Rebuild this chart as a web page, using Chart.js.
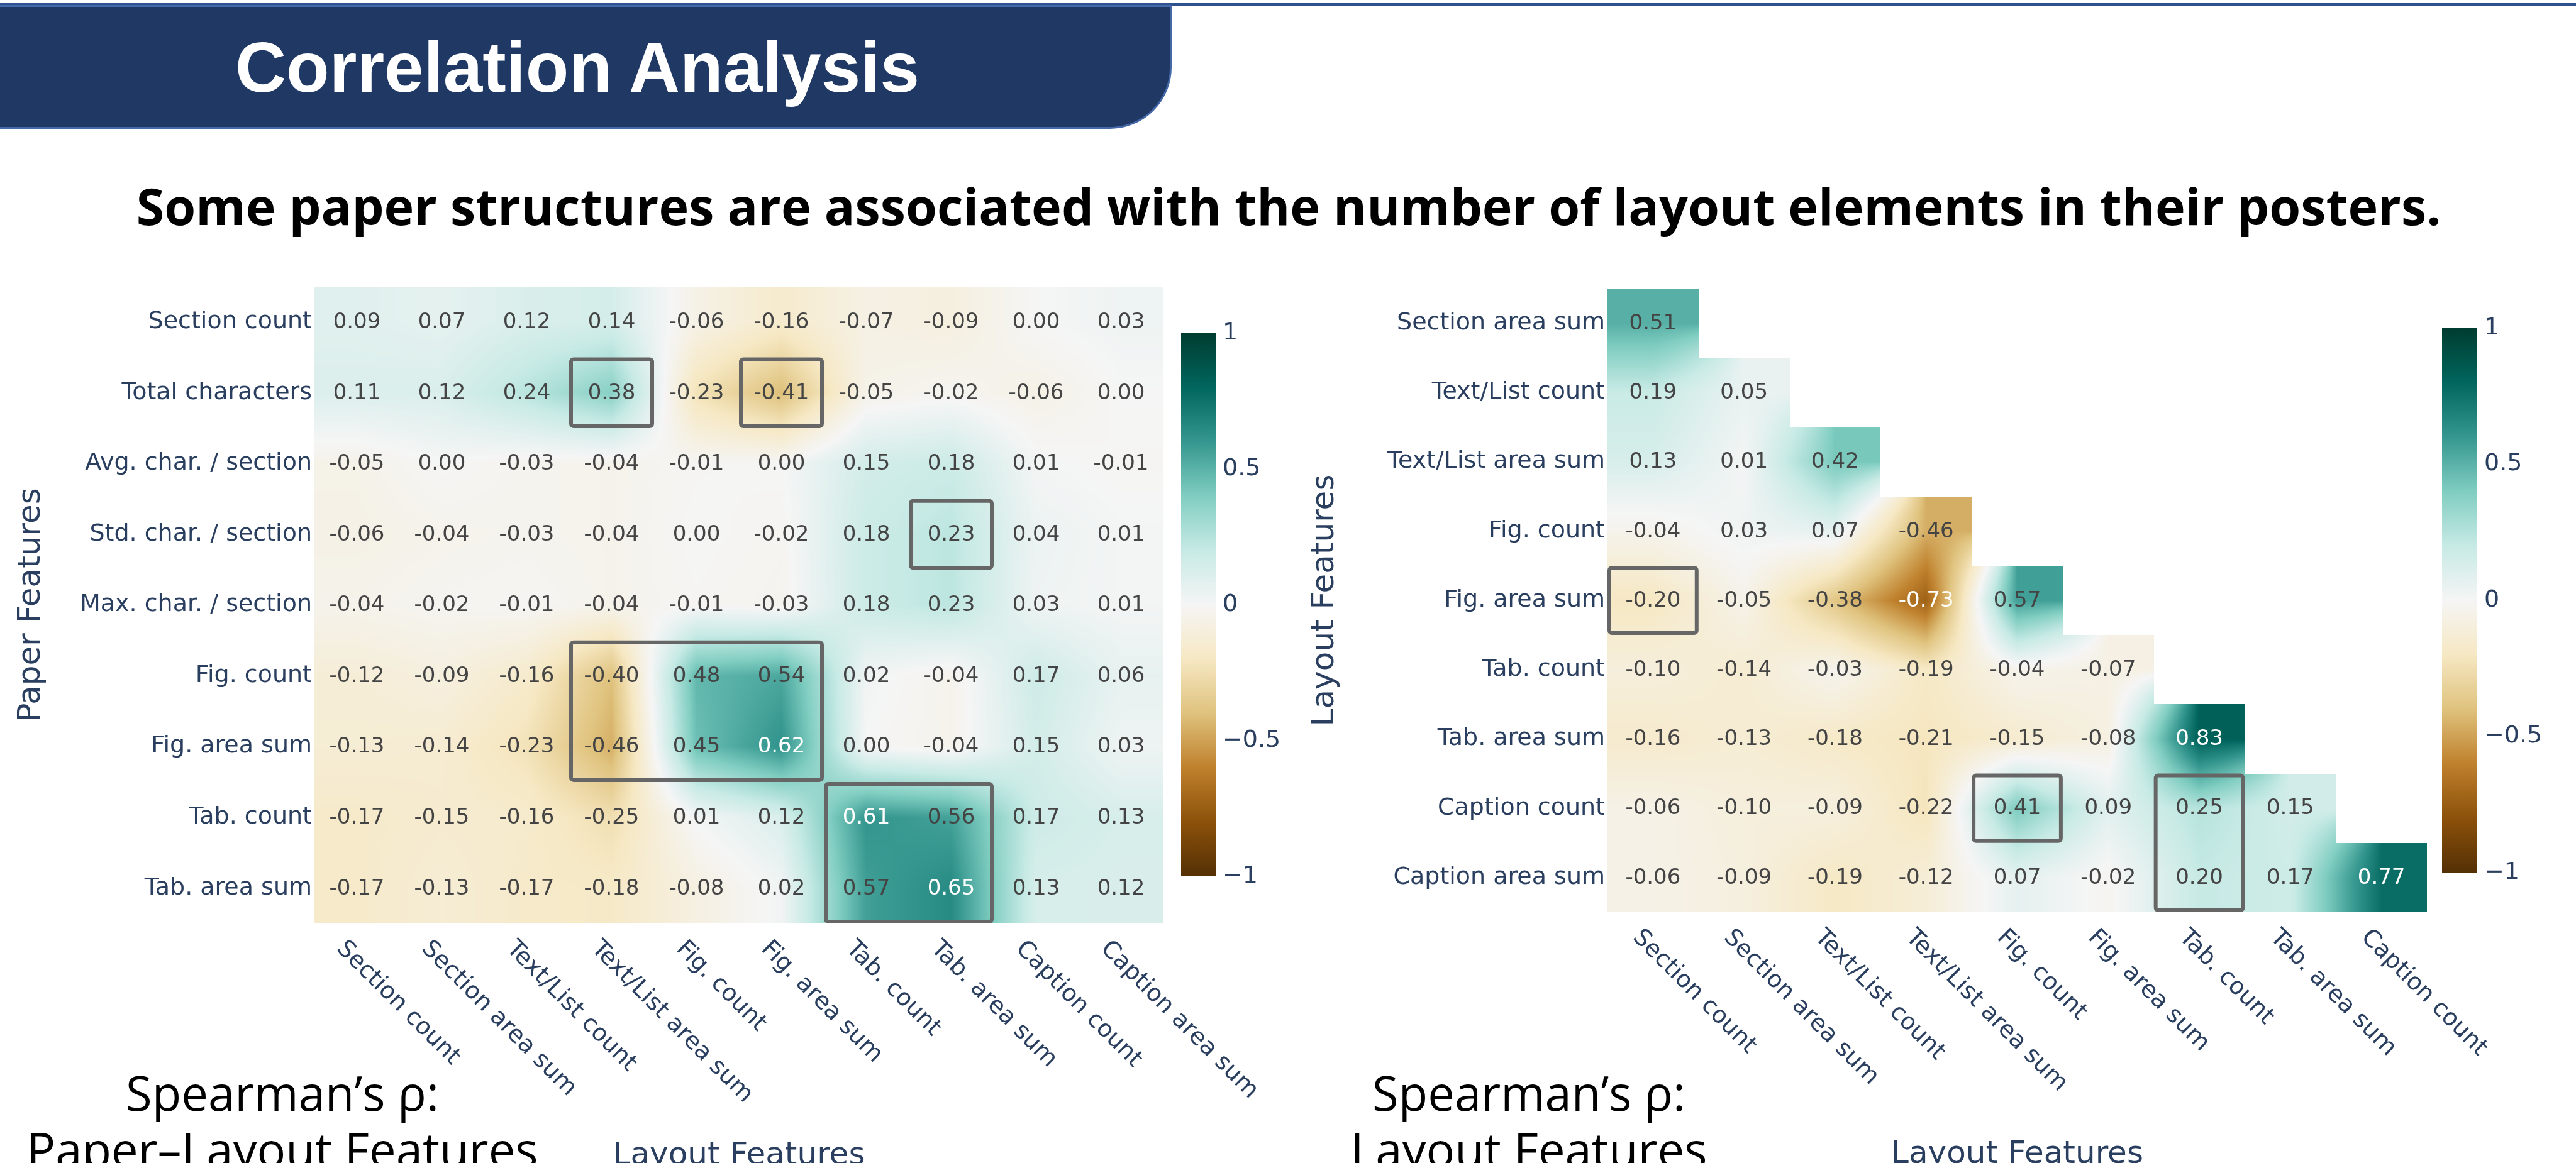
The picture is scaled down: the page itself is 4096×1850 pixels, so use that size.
<!DOCTYPE html>
<html><head><meta charset="utf-8">
<script src="https://cdn.jsdelivr.net/npm/chart.js@4.4.1/dist/chart.umd.min.js"></script>
<style>
html,body{margin:0;padding:0;width:4096px;height:1850px;overflow:hidden;background:#fff;}
#topline{position:absolute;left:0;top:4px;width:4096px;height:5px;background:#2f528f;}
#banner{position:absolute;left:-4px;top:8px;width:1867px;height:197px;background:#203864;border:3px solid #4468a8;border-radius:0 0 98px 0;box-sizing:border-box;}
.txt{position:absolute;white-space:nowrap;line-height:1;z-index:3;}
canvas{position:absolute;z-index:1;}
</style></head><body>
<div id="topline"></div><div id="banner"></div>
<canvas id="c1" width="2040" height="1520" style="left:0px;top:380px;width:2040px;height:1520px"></canvas>
<canvas id="c2" width="2036" height="1520" style="left:2060px;top:380px;width:2036px;height:1520px"></canvas>
<div id="title" class="txt" style="font-family:'Liberation Sans',Arial,sans-serif;font-weight:bold;color:#fff;font-size:113px;">Correlation Analysis</div>
<div id="subtitle" class="txt" style="font-family:'Open Sans',sans-serif;font-weight:bold;color:#000;font-size:85px;">Some paper structures are associated with the number of layout elements in their posters.</div>
<div id="sl1" class="txt" style="font-family:'Open Sans',sans-serif;color:#000;font-size:76px;">Spearman’s ρ:</div>
<div id="sl2" class="txt" style="font-family:'Open Sans',sans-serif;color:#000;font-size:76px;">Paper–Layout Features</div>
<div id="sr1" class="txt" style="font-family:'Open Sans',sans-serif;color:#000;font-size:76px;">Spearman’s ρ:</div>
<div id="sr2" class="txt" style="font-family:'Open Sans',sans-serif;color:#000;font-size:76px;">Layout Features</div>
<script>
// ---------- DATA ----------
const layoutLabels = ['Section count','Section area sum','Text/List count','Text/List area sum','Fig. count','Fig. area sum','Tab. count','Tab. area sum','Caption count','Caption area sum'];
const paperLabels = ['Section count','Total characters','Avg. char. / section','Std. char. / section','Max. char. / section','Fig. count','Fig. area sum','Tab. count','Tab. area sum'];
const paperLayoutRho = [
  [0.09, 0.07, 0.12, 0.14, -0.06, -0.16, -0.07, -0.09, 0.00, 0.03],
  [0.11, 0.12, 0.24, 0.38, -0.23, -0.41, -0.05, -0.02, -0.06, 0.00],
  [-0.05, 0.00, -0.03, -0.04, -0.01, 0.00, 0.15, 0.18, 0.01, -0.01],
  [-0.06, -0.04, -0.03, -0.04, 0.00, -0.02, 0.18, 0.23, 0.04, 0.01],
  [-0.04, -0.02, -0.01, -0.04, -0.01, -0.03, 0.18, 0.23, 0.03, 0.01],
  [-0.12, -0.09, -0.16, -0.40, 0.48, 0.54, 0.02, -0.04, 0.17, 0.06],
  [-0.13, -0.14, -0.23, -0.46, 0.45, 0.62, 0.00, -0.04, 0.15, 0.03],
  [-0.17, -0.15, -0.16, -0.25, 0.01, 0.12, 0.61, 0.56, 0.17, 0.13],
  [-0.17, -0.13, -0.17, -0.18, -0.08, 0.02, 0.57, 0.65, 0.13, 0.12]
];
const layoutColLabels = ['Section count','Section area sum','Text/List count','Text/List area sum','Fig. count','Fig. area sum','Tab. count','Tab. area sum','Caption count'];
const layoutRowLabels = ['Section area sum','Text/List count','Text/List area sum','Fig. count','Fig. area sum','Tab. count','Tab. area sum','Caption count','Caption area sum'];
const layoutRho = [
  [0.51],
  [0.19, 0.05],
  [0.13, 0.01, 0.42],
  [-0.04, 0.03, 0.07, -0.46],
  [-0.20, -0.05, -0.38, -0.73, 0.57],
  [-0.10, -0.14, -0.03, -0.19, -0.04, -0.07],
  [-0.16, -0.13, -0.18, -0.21, -0.15, -0.08, 0.83],
  [-0.06, -0.10, -0.09, -0.22, 0.41, 0.09, 0.25, 0.15],
  [-0.06, -0.09, -0.19, -0.12, 0.07, -0.02, 0.20, 0.17, 0.77]
];
// highlighted blocks: [row0, col0, row1, col1]
const paperLayoutBoxes = [[1,3,1,3],[1,5,1,5],[3,7,3,7],[5,3,6,5],[7,6,8,7]];
const layoutBoxes = [[4,0,4,0],[7,4,7,4],[7,6,8,6]];
const colorbarTicks = [1, 0.5, 0, -0.5, -1];
const brbg = [[84,48,5],[140,81,10],[191,129,45],[223,194,125],[246,232,195],[245,245,245],[199,234,229],[128,205,193],[53,151,143],[1,102,94],[0,60,48]];

// ---------- HELPERS ----------
function cmap(v){
  let t=(v+1)/2; t=Math.max(0,Math.min(1,t));
  const s=t*10; const i=Math.min(9,Math.floor(s)); const f=s-i;
  const a=brbg[i], b=brbg[i+1];
  return [a[0]+(b[0]-a[0])*f, a[1]+(b[1]-a[1])*f, a[2]+(b[2]-a[2])*f];
}
function toPoints(rows, cols, z){
  const pts=[];
  z.forEach((row,i)=>row.forEach((v,j)=>{ if(v!==null && v!==undefined) pts.push({x:cols[j], y:rows[i], v}); }));
  return pts;
}
const TICK_FONT = {family:'DejaVu Sans', size:38};
const AX_COLOR = '#2a3f5f';

const heatPlugin = {
  id:'heat',
  beforeDatasetsDraw(chart){
    const ctx=chart.ctx, xs=chart.scales.x, ys=chart.scales.y;
    const xl=xs.getLabels(), yl=ys.getLabels();
    const nC=xl.length, nR=yl.length;
    const grid=Array.from({length:nR},()=>new Array(nC).fill(NaN));
    chart.data.datasets[0].data.forEach(d=>{ grid[yl.indexOf(d.y)][xl.indexOf(d.x)]=d.v; });
    const cw=xs.getPixelForValue(1)-xs.getPixelForValue(0);
    const rh=ys.getPixelForValue(1)-ys.getPixelForValue(0);
    const left=xs.getPixelForValue(0)-cw/2, top=ys.getPixelForValue(0)-rh/2;
    const W=Math.round(cw*nC), H=Math.round(rh*nR);
    const off=document.createElement('canvas'); off.width=W; off.height=H;
    const octx=off.getContext('2d'); const img=octx.createImageData(W,H); const D=img.data;
    const colInfo=[];
    for(let px=0;px<W;px++){
      const own=Math.min(nC-1,Math.floor((px+0.5)/cw));
      let u=(px+0.5)/cw-0.5; let j0=Math.floor(u), t=u-j0;
      if(j0<0){j0=0;t=0;} if(j0>=nC-1){j0=nC-1;t=0;}
      colInfo.push([own,j0,Math.min(nC-1,j0+1),t]);
    }
    for(let py=0;py<H;py++){
      const ownR=Math.min(nR-1,Math.floor((py+0.5)/rh));
      let u=(py+0.5)/rh-0.5; let i0=Math.floor(u), s=u-i0;
      if(i0<0){i0=0;s=0;} if(i0>=nR-1){i0=nR-1;s=0;}
      const i1=Math.min(nR-1,i0+1);
      for(let px=0;px<W;px++){
        const [own,j0,j1,t]=colInfo[px];
        if(isNaN(grid[ownR][own])) continue;
        const vals=[grid[i0][j0],grid[i0][j1],grid[i1][j0],grid[i1][j1]];
        const ws=[(1-s)*(1-t),(1-s)*t,s*(1-t),s*t];
        let sum=0, wsum=0;
        for(let k=0;k<4;k++){ if(!isNaN(vals[k])){ sum+=vals[k]*ws[k]; wsum+=ws[k]; } }
        const v = wsum>0 ? sum/wsum : grid[ownR][own];
        const c=cmap(v); const o=(py*W+px)*4;
        D[o]=c[0]; D[o+1]=c[1]; D[o+2]=c[2]; D[o+3]=255;
      }
    }
    octx.putImageData(img,0,0);
    ctx.drawImage(off,left,top);
  },
  afterDatasetsDraw(chart, args, opts){
    const ctx=chart.ctx, xs=chart.scales.x, ys=chart.scales.y, ca=chart.chartArea;
    const meta=chart.getDatasetMeta(0), data=chart.data.datasets[0].data;
    const cw=xs.getPixelForValue(1)-xs.getPixelForValue(0);
    const rh=ys.getPixelForValue(1)-ys.getPixelForValue(0);
    // cell values
    ctx.save();
    ctx.font='34px "DejaVu Sans"'; ctx.textAlign='center'; ctx.textBaseline='middle';
    meta.data.forEach((pt,k)=>{
      const v=data[k].v; const c=cmap(v);
      const br=(c[0]*299+c[1]*587+c[2]*114)/1000;
      ctx.fillStyle = br<128 ? '#ffffff' : '#444444';
      ctx.fillText(v.toFixed(2), pt.x, pt.y+1);
    });
    ctx.restore();
    // highlight boxes
    ctx.save();
    ctx.strokeStyle='#666666'; ctx.lineWidth=6;
    (opts.boxes||[]).forEach(b=>{
      const ins=3;
      const x=xs.getPixelForValue(b[1])-cw/2+ins, y=ys.getPixelForValue(b[0])-rh/2+ins;
      const w=(b[3]-b[1]+1)*cw-2*ins, h=(b[2]-b[0]+1)*rh-2*ins;
      ctx.beginPath(); ctx.roundRect(x,y,w,h,4); ctx.stroke();
    });
    ctx.restore();
    // x tick labels, rotated 45deg clockwise
    ctx.save();
    ctx.font='38px "DejaVu Sans"'; ctx.fillStyle=AX_COLOR; ctx.textAlign='left'; ctx.textBaseline='alphabetic';
    xs.getLabels().forEach((lab,i)=>{
      const px=xs.getPixelForValue(i);
      ctx.save(); ctx.translate(px-33.6, ca.bottom+41.6); ctx.rotate(Math.PI/4); ctx.fillText(lab,0,0); ctx.restore();
    });
    // x axis title
    ctx.font='50px "DejaVu Sans"'; ctx.textAlign='center';
    ctx.fillText(opts.xTitle, (ca.left+ca.right)/2, opts.xTitleBaseline);
    ctx.restore();
    // colorbar
    const cb=opts.cb;
    const x0=ca.right+cb.dx0, x1=ca.right+cb.dx1;
    const g=ctx.createLinearGradient(0,cb.bottom,0,cb.top);
    brbg.forEach((c,i)=>g.addColorStop(i/10,`rgb(${c[0]},${c[1]},${c[2]})`));
    ctx.save();
    ctx.fillStyle=g; ctx.fillRect(x0,cb.top,x1-x0,cb.bottom-cb.top);
    ctx.font='38px "DejaVu Sans"'; ctx.fillStyle=AX_COLOR; ctx.textAlign='left'; ctx.textBaseline='middle';
    colorbarTicks.forEach(t=>{
      const y=cb.bottom-(t+1)/2*(cb.bottom-cb.top);
      const s=(t<0?'\u2212':'')+String(Math.abs(t));
      ctx.fillText(s, ca.right+cb.labelDx, y);
    });
    ctx.restore();
  }
};

function makeChart(id, cols, rows, z, cfg){
  return new Chart(document.getElementById(id), {
    type:'scatter',
    data:{datasets:[{data:toPoints(rows,cols,z), pointRadius:0, pointHoverRadius:0, backgroundColor:'rgba(0,0,0,0)'}]},
    options:{
      responsive:false, devicePixelRatio:1, animation:false, events:[],
      layout:{padding:cfg.padding},
      scales:{
        x:{type:'category', labels:cols, offset:true, display:false},
        y:{type:'category', labels:rows, offset:true,
           grid:{display:false, drawTicks:false}, border:{display:false},
           ticks:{font:TICK_FONT, color:AX_COLOR, padding:4, autoSkip:false},
           title:{display:true, text:cfg.yTitle, font:{family:'DejaVu Sans', size:50}, color:AX_COLOR, padding:{top:cfg.yTitlePad, bottom:0}},
           afterFit(s){ s.width=cfg.yWidth; }}
      },
      plugins:{legend:{display:false}, tooltip:{enabled:false},
        heat:{boxes:cfg.boxes, xTitle:'Layout Features', xTitleBaseline:cfg.xTitleBaseline, cb:cfg.cb}}
    },
    plugins:[heatPlugin]
  });
}

makeChart('c1', layoutLabels, paperLabels, paperLayoutRho, {
  padding:{left:10, top:76, right:190, bottom:431}, yWidth:490, yTitle:'Paper Features', yTitlePad:10,
  boxes:paperLayoutBoxes, xTitleBaseline:1471.5, cb:{dx0:28, dx1:83, top:150, bottom:1014, labelDx:94}
});
makeChart('c2', layoutColLabels, layoutRowLabels, layoutRho, {
  padding:{left:10, top:79, right:237, bottom:449}, yWidth:486, yTitle:'Layout Features', yTitlePad:7,
  boxes:layoutBoxes, xTitleBaseline:1469.6, cb:{dx0:24, dx1:80, top:142, bottom:1008, labelDx:91}
});

// ---------- page text placement ----------
function fit(el, targetW){ const w=el.getBoundingClientRect().width; const fs=parseFloat(el.style.fontSize); el.style.fontSize=(fs*targetW/w)+'px'; }
function place(el, x, baseline, align){
  const m=document.createElement('span'); m.style.cssText='display:inline-block;width:0;height:0;vertical-align:baseline';
  el.appendChild(m); el.style.left='0px'; el.style.top='0px';
  const r=el.getBoundingClientRect(); const b=m.getBoundingClientRect().top-r.top;
  el.style.top=(baseline-b)+'px';
  el.style.left=(align==='center'? x-r.width/2 : x)+'px';
}
const T=document.getElementById('title'); fit(T,1088); place(T,374,145.5,'left');
const S=document.getElementById('subtitle'); fit(S,3665); place(S,2049,357.5,'center');
place(document.getElementById('sl1'),449,1767,'center');
place(document.getElementById('sl2'),449,1857,'center');
place(document.getElementById('sr1'),2431,1767,'center');
place(document.getElementById('sr2'),2431,1857,'center');
</script>
</body></html>
